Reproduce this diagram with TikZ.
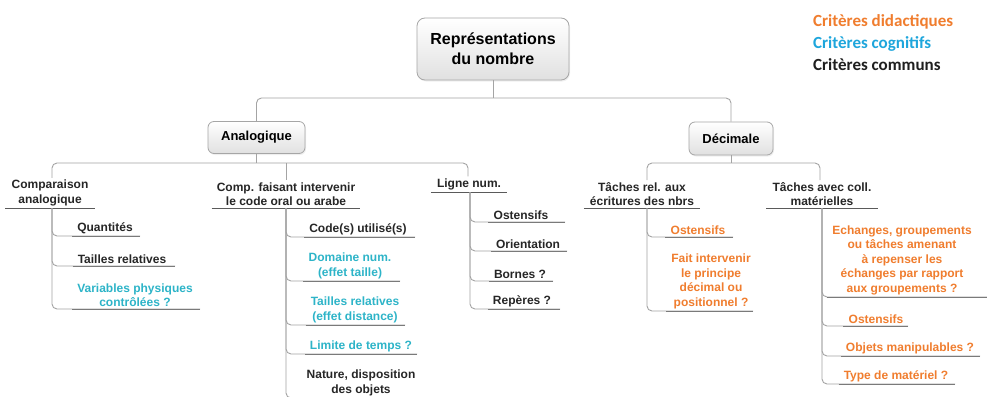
\documentclass[tikz,border=0pt]{standalone}
\usepackage{fontspec}
\setmainfont{Liberation Sans}
\newfontfamily\legendfont{Carlito}
\usetikzlibrary{calc,shadows}
\definecolor{orng}{HTML}{F07D2E}
\definecolor{cyn}{HTML}{2DB4C8}
\definecolor{lgcyn}{HTML}{1EA6DC}
\definecolor{lne}{HTML}{A4A4A4}
\definecolor{uln}{HTML}{5A5A5A}
\definecolor{lfl}{HTML}{7A7A7A}
\newcommand\mmleaf[3]{%
  \draw[conn] (#1) |- (#2.south -| #3,0);
  \draw[leafline] ([xshift=-3pt]#2.south west) -- (#2.south -| #3,0);}
\begin{document}
\begin{tikzpicture}[x=1pt,y=-1pt,
  box/.style={draw=black!35, line width=0.8pt, rounded corners=6pt, top color=white, bottom color=black!12,
    font=\bfseries\fontsize{13}{15}\selectfont, align=center,
    drop shadow={opacity=0.12, shadow xshift=1pt, shadow yshift=-1.5pt}},
  lbl/.style={font=\bfseries\fontsize{12}{14.5}\selectfont, align=center, inner sep=2pt, anchor=south, text=black!85},
  conn/.style={draw=lne, line width=0.9pt, rounded corners=5pt},
  pline/.style={draw=uln, line width=1pt},
  leafline/.style={draw=lfl, line width=1pt},
  leg/.style={font=\legendfont\bfseries\fontsize{17}{20}\selectfont, anchor=west, inner sep=0pt}]
\fill[white] (0,0) rectangle (987,396);
\useasboundingbox (0,0) rectangle (987,396);

% legend
\node[leg, text=orng] (l1) at (813,22) {Critères didactiques};
\node[leg, text=lgcyn] (l2) at (813,44) {Critères cognitifs};
\node[leg, text=black!88] (l3) at (813,65) {Critères communs};

% boxes
\node[box, minimum width=152pt, minimum height=62pt, rounded corners=8pt,
  font=\bfseries\fontsize{16}{20}\selectfont] (root) at (493,49) {Représentations\\du nombre};
\node[box, minimum width=97pt, minimum height=32pt] (ana) at (256.5,137.5) {Analogique};
\node[box, minimum width=84pt, minimum height=33pt] (dec) at (731,138.5) {Décimale};

\coordinate (j0) at (root.south |- 0,98);
\draw[conn] (root.south) -- (j0);
\draw[conn] (ana.north) |- (j0) -| (dec.north);

% Analogique level 2
\node[lbl] (ca) at (50,208) {Comparaison\\analogique};
\node[lbl] (cf) at (286,208) {Comp. faisant intervenir\\le code oral ou arabe};
\node[lbl] (ln) at (469,192) {Ligne num.};
\coordinate (j1) at (ana.south |- 0,163);
\draw[conn] (ana.south) -- (j1);
\draw[conn] (ca.north -| 52,0) |- (j1) -| (ln.north -| 468,0);
\draw[conn] (j1 -| cf.north) -- (cf.north);
\draw[pline] ([xshift=-4pt]ca.south west) -- ([xshift=4pt]ca.south east);
\draw[pline] ([xshift=-3pt]cf.south west) -- ([xshift=3pt]cf.south east);
\draw[pline] ([xshift=-4pt]ln.south west) -- ([xshift=4pt]ln.south east);
\coordinate (tca) at (ca.south -| 52,0);
\coordinate (tcf) at (cf.south -| 286,0);
\coordinate (tln) at (ln.south -| 470,0);

% children of Comparaison analogique
\node[lbl] (q) at (105,236) {Quantités};
\node[lbl] (tr) at (122,266) {Tailles relatives};
\node[lbl, text=cyn] (vp) at (135,309) {Variables physiques\\contrôlées ?};
\mmleaf{tca}{q}{140}
\mmleaf{tca}{tr}{175}
\mmleaf{tca}{vp}{200}

% children of Comp. faisant intervenir
\node[lbl] (cu) at (358,237) {Code(s) utilisé(s)};
\node[lbl, text=cyn] (dn) at (350,281) {Domaine num.\\(effet taille)};
\node[lbl, text=cyn] (trd) at (355,325) {Tailles relatives\\(effet distance)};
\node[lbl, text=cyn] (lt) at (361,354) {Limite de temps ?};
\node[lbl] (nd) at (361,398) {Nature, disposition\\des objets};
\mmleaf{tcf}{cu}{415}
\mmleaf{tcf}{dn}{400}
\mmleaf{tcf}{trd}{405}
\mmleaf{tcf}{lt}{417}
\mmleaf{tcf}{nd}{420}

% children of Ligne num.
\node[lbl] (os1) at (521,222) {Ostensifs};
\node[lbl] (ori) at (528,251) {Orientation};
\node[lbl] (bo) at (520,281) {Bornes ?};
\node[lbl] (rep) at (522,309) {Repères ?};
\mmleaf{tln}{os1}{565}
\mmleaf{tln}{ori}{567}
\mmleaf{tln}{bo}{553}
\mmleaf{tln}{rep}{560}

% Décimale level 2
\node[lbl] (tr1) at (642,208) {Tâches rel. aux\\écritures des nbrs};
\node[lbl] (tc) at (822,208) {Tâches avec coll.\\matérielles};
\coordinate (j2) at (dec.south |- 0,163);
\draw[conn] (dec.south) -- (j2);
\draw[conn] (tr1.north -| 647,0) |- (j2) -| (tc.north -| 820,0);
\draw[pline] ([xshift=-4pt]tr1.south west) -- ([xshift=4pt]tr1.south east);
\draw[pline] ([xshift=-4pt]tc.south west) -- ([xshift=4pt]tc.south east);
\coordinate (ttr) at (tr1.south -| 647,0);
\coordinate (ttc) at (tc.south -| 822,0);

% children of Tâches rel.
\node[lbl, text=orng] (os2) at (698,237) {Ostensifs};
\node[lbl, text=orng] (fi) at (711,311) {Fait intervenir\\le principe\\décimal ou\\positionnel ?};
\mmleaf{ttr}{os2}{733}
\mmleaf{ttr}{fi}{753}

% children of Tâches avec coll.
\node[lbl, text=orng] (ech) at (902,297) {Echanges, groupements\\ou tâches amenant\\à repenser les\\échanges par rapport\\aux groupements ?};
\node[lbl, text=orng] (os3) at (876,326) {Ostensifs};
\node[lbl, text=orng] (om) at (910,356) {Objets manipulables ?};
\node[lbl, text=orng] (tm) at (896,384) {Type de matériel ?};
\mmleaf{ttc}{ech}{987}
\mmleaf{ttc}{os3}{908}
\mmleaf{ttc}{om}{980}
\mmleaf{ttc}{tm}{955}
\end{tikzpicture}
\end{document}
